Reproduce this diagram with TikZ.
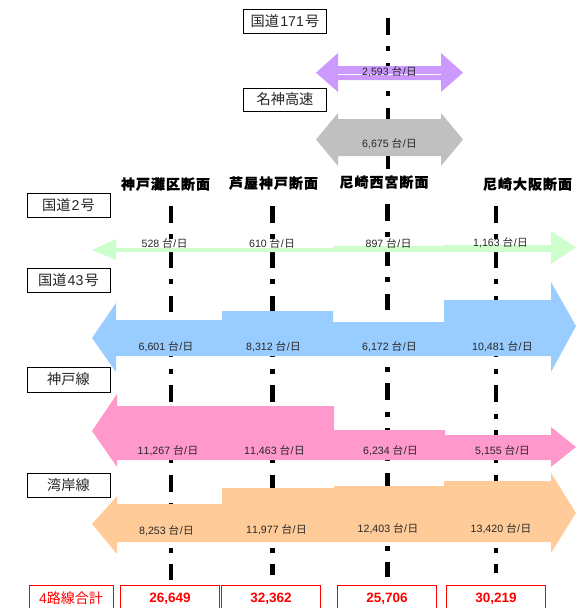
\documentclass[tikz,border=0pt]{standalone}
\usepackage{fontspec}
\setmainfont{Liberation Sans}
\newfontfamily\jp{Noto Sans CJK JP}
\newfontfamily\jpt[LetterSpace=7,BoldFeatures={FakeBold=0.5}]{Noto Sans CJK JP}
\newfontfamily\libs[Kerning=Off]{Liberation Sans}
\newcommand\cntlabel[1]{{\libs #1 \jp 台\hspace{0.5pt}\libs/\hspace{0.5pt}\jp 日}}
\newcommand\roadnum[1]{\hspace{1.2pt}{\libs #1}\hspace{1.2pt}}
\definecolor{cpurple}{HTML}{CC99FF}
\definecolor{cgray}{HTML}{C0C0C0}
\definecolor{cgreen}{HTML}{CCFFCC}
\definecolor{cblue}{HTML}{99CCFF}
\definecolor{cpink}{HTML}{FF99CC}
\definecolor{corange}{HTML}{FFCC99}
\tikzset{
  roadbox/.style={draw=black,line width=0.9pt,fill=white,minimum width=83pt,inner sep=0pt,font=\jp\fontsize{14.2}{14}\selectfont,text=black!85},
  totalbox/.style={draw=red,line width=0.9pt,fill=white,minimum height=27pt,minimum width=99pt,inner sep=0pt,text=red,font=\libs\bfseries\fontsize{13.5}{13.5}\selectfont},
  countlbl/.style={inner sep=0pt,font=\fontsize{10.6}{11}\selectfont,text=black!85},
  sectitle/.style={inner sep=0pt,font=\jpt\bfseries\fontsize{14}{14}\selectfont,text=black},
  divline/.style={line width=4.4pt,black,dash pattern=on 16.8pt off 11.6pt on 5pt off 11.4pt}
}
\begin{document}
\begin{tikzpicture}[x=1pt,y=-1pt]
\path[use as bounding box] (0,0) rectangle (583,608);
% section divider lines
\coordinate (t0) at (387.8,18); \coordinate (t1) at (387.8,170);
\coordinate (a0) at (171,206);  \coordinate (a1) at (171,580);
\coordinate (b0) at (272.5,206);\coordinate (b1) at (272.5,575);
\coordinate (c0) at (387.5,204);\coordinate (c1) at (387.5,577);
\coordinate (d0) at (496,206);  \coordinate (d1) at (496,573);
\draw[divline] (t0) -- (t1);
\draw[divline] (a0) -- (a1);
\draw[divline] (b0) -- (b1);
\draw[divline] (c0) -- (c1);
\draw[divline] (d0) -- (d1);
% flow bands
\fill[cpurple] (316,72.7) -- (338,53) -- (338,66) -- (441,66) -- (441,53) -- (463,72.7) -- (441,92) -- (441,80) -- (338,80) -- (338,92) -- cycle;
\draw[white,line width=0.8pt] (338,74) -- (441,74);
\fill[cgray] (316,139.5) -- (338,113) -- (338,119) -- (441,119) -- (441,113) -- (463,139.5) -- (441,166) -- (441,156) -- (338,156) -- (338,166) -- cycle;
\fill[cgreen] (92,250) -- (116,239) -- (116,248) -- (333,248) -- (333,246) -- (443,246) -- (443,245) -- (551,245) -- (551,231) -- (576,247.5) -- (551,264) -- (551,252) -- (116,252) -- (116,260) -- cycle;
\fill[cblue] (92,338) -- (116,303) -- (116,320) -- (222,320) -- (222,311) -- (333,311) -- (333,322) -- (444,322) -- (444,300) -- (551,300) -- (551,282) -- (576,326) -- (551,372) -- (551,356) -- (116,356) -- (116,372) -- cycle;
\fill[cpink] (92,431) -- (117,394) -- (117,406) -- (334,406) -- (334,430) -- (445,430) -- (445,435) -- (551,435) -- (551,427) -- (576,447) -- (551,467) -- (551,460) -- (117,460) -- (117,467) -- cycle;
\fill[corange] (92,524) -- (117,496) -- (117,504) -- (222,504) -- (222,488) -- (334,488) -- (334,486) -- (444,486) -- (444,481) -- (551,481) -- (551,473) -- (576,513) -- (551,553) -- (551,542) -- (117,542) -- (117,554) -- cycle;
% road labels
\node[roadbox,minimum height=24pt] (r171) at (285,21) {国道\roadnum{171}号};
\node[roadbox,minimum height=23pt] (meishin) at (285,99.5) {名神高速};
\node[roadbox,minimum height=24pt] (r2) at (68.5,205) {国道\roadnum{2}号};
\node[roadbox,minimum height=24pt] (r43) at (68.5,280) {国道\roadnum{43}号};
\node[roadbox,minimum height=25pt] (kobe) at (68.5,379.5) {神戸線};
\node[roadbox,minimum height=24pt] (wangan) at (68.5,485) {湾岸線};
% section titles
\node[sectitle] (s1) at (165.5,184) {神戸灘区断面};
\node[sectitle] (s2) at (273.5,183) {芦屋神戸断面};
\node[sectitle] (s3) at (384,182) {尼崎西宮断面};
\node[sectitle] (s4) at (527.5,184) {尼崎大阪断面};
% counts
\node[countlbl] (n171) at (389.5,72) {\cntlabel{2,593}};
\node[countlbl] (nmei) at (389.5,144) {\cntlabel{6,675}};
\node[countlbl] (g1) at (164.5,243) {\cntlabel{528}};
\node[countlbl] (g2) at (272,243) {\cntlabel{610}};
\node[countlbl] (g3) at (388.5,243) {\cntlabel{897}};
\node[countlbl] (g4) at (500.5,243) {\cntlabel{1,163}};
\node[countlbl] (h1) at (166,347) {\cntlabel{6,601}};
\node[countlbl] (h2) at (273.5,347) {\cntlabel{8,312}};
\node[countlbl] (h3) at (389.5,347) {\cntlabel{6,172}};
\node[countlbl] (h4) at (502.5,347) {\cntlabel{10,481}};
\node[countlbl] (k1) at (168,451) {\cntlabel{11,267}};
\node[countlbl] (k2) at (274.5,451) {\cntlabel{11,463}};
\node[countlbl] (k3) at (390.5,451) {\cntlabel{6,234}};
\node[countlbl] (k4) at (502.5,451) {\cntlabel{5,155}};
\node[countlbl] (w1) at (166.5,531) {\cntlabel{8,253}};
\node[countlbl] (w2) at (276.5,530) {\cntlabel{11,977}};
\node[countlbl] (w3) at (388,529) {\cntlabel{12,403}};
\node[countlbl] (w4) at (501,529) {\cntlabel{13,420}};
% totals
\node[totalbox,minimum width=84pt,font=\jp\fontsize{14}{14}\selectfont] (tl) at (71,598.5) {{\libs 4}路線合計};
\node[totalbox] (t1n) at (170,598.5) {26,649};
\node[totalbox] (t2n) at (271,598.5) {32,362};
\node[totalbox] (t3n) at (387,598.5) {25,706};
\node[totalbox] (t4n) at (496,598.5) {30,219};
\end{tikzpicture}
\end{document}
